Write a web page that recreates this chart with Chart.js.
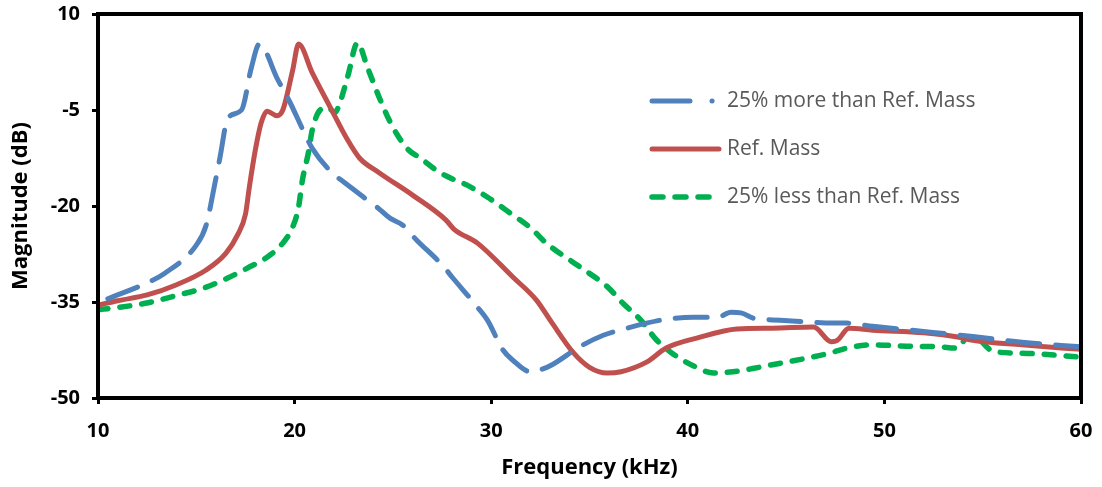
<!DOCTYPE html>
<html>
<head>
<meta charset="utf-8">
<title>Frequency response</title>
<script src="https://cdn.jsdelivr.net/npm/chart.js@4.4.1/dist/chart.umd.min.js"></script>
<style>
  body { margin: 0; background: #fff; }
  canvas { display: block; }
</style>
</head>
<body>
<canvas id="chart" width="1102" height="487"></canvas>
<script>
// 25% more than reference mass
const moreFreq = [10.5, 12.5, 13.4, 15.0, 15.5, 15.95, 16.2, 16.6, 17.3, 17.8, 18.2, 19.15, 19.7, 20.5, 20.9, 21.9, 22.5, 23.5, 24.2, 24.85, 25.5, 26.2, 27.5, 28.05, 29.3, 29.8, 30.6, 31.1, 32.0, 32.5, 33.1, 34.5, 35.7, 36.55, 37.9, 38.9, 40.3, 41.5, 42.2, 42.7, 43.4, 44.3, 45.5, 47.4, 48.1, 49.4, 52.0, 54.5, 57.0, 60];
const moreMag = [-34.5, -32.0, -30.5, -26.1, -23.0, -16.4, -12.5, -6.3, -5.0, 1.6, 5.3, -0.3, -3.4, -8.6, -11.0, -14.8, -16.25, -18.6, -20.2, -21.9, -23.0, -25.3, -29.2, -31.25, -35.8, -37.8, -42.5, -44.1, -45.9, -45.6, -44.8, -42.0, -40.2, -39.4, -38.3, -37.7, -37.4, -37.4, -36.6, -36.7, -37.6, -37.8, -38.0, -38.3, -38.3, -38.8, -39.6, -40.4, -41.3, -42.0];

// reference mass
const refFreq = [10, 11, 12.5, 14, 15.5, 16.5, 17.1, 17.5, 17.7, 18.0, 18.3, 18.6, 19.1, 19.4, 19.9, 20.2, 20.9, 21.8, 22.7, 23.3, 24.3, 26.0, 27.7, 28.1, 29.3, 31.1, 32.3, 33.1, 34.2, 35.0, 35.9, 36.6, 37.9, 38.9, 40.5, 42.5, 44.3, 46.4, 47.3, 47.6, 48.2, 49.4, 52.0, 53.8, 54.5, 57.0, 60];
const refMag = [-35.5, -34.8, -33.9, -32.3, -30.0, -27.4, -24.5, -21.3, -17.0, -11.3, -7.0, -5.2, -5.9, -5.0, 1.2, 5.3, 0.8, -4.5, -9.7, -12.5, -14.8, -18.3, -22.2, -23.6, -25.8, -31.1, -34.7, -38.3, -43.0, -45.2, -46.1, -45.9, -44.4, -42.2, -40.6, -39.2, -39.1, -38.9, -41.2, -41.0, -39.1, -39.4, -39.8, -40.5, -41.0, -41.7, -42.4];

// 25% less than reference mass
const lessFreq = [10.0, 10.9, 12.4, 14.1, 15.4, 16.6, 17.6, 18.6, 19.4, 19.9, 20.2, 20.4, 20.7, 20.9, 21.3, 21.7, 22.05, 22.3, 22.7, 23.2, 23.7, 24.3, 25.0, 25.8, 26.4, 27.2, 27.9, 28.75, 29.8, 31.1, 32.0, 32.8, 34.5, 35.9, 36.7, 37.6, 38.4, 39.2, 40.3, 41.3, 42.3, 43.3, 44.3, 46.1, 47.2, 48.1, 49.4, 51.1, 52.8, 53.7, 54.25, 54.7, 55.2, 55.5, 57.0, 60];
const lessMag = [-36.2, -35.9, -35.2, -33.9, -32.8, -31.25, -29.7, -28.0, -25.8, -23.3, -20.2, -15.9, -11.7, -8.1, -5.0, -4.6, -5.4, -3.9, 0.2, 5.5, 1.7, -3.0, -7.7, -11.25, -12.5, -14.4, -15.6, -16.7, -18.6, -21.4, -23.4, -25.8, -29.5, -32.6, -35.2, -37.8, -40.9, -43.0, -45.0, -46.1, -45.9, -45.4, -44.8, -43.75, -43.0, -42.2, -41.7, -41.9, -42.0, -42.2, -40.5, -40.6, -42.0, -42.7, -43.0, -43.6];

const seriesNames = ['25% more than Ref. Mass', 'Ref. Mass', '25% less than Ref. Mass'];
const xTicks = [10, 20, 30, 40, 50, 60];
const yTicks = [-50, -35, -20, -5, 10];

function toPoints(xs, ys) {
  return xs.map((x, i) => ({ x: x, y: ys[i] }));
}

const tickFont = { family: 'Open Sans', weight: 'bold', size: 20 };
const titleFont = { family: 'Open Sans', weight: 'bold', size: 22 };

// legend sits inside the plot, so draw it ourselves
const legendInside = {
  id: 'legendInside',
  afterDraw(chart) {
    const ctx = chart.ctx;
    const rows = [
      { y: 101, dash: [38, 22, 0.1, 10] },
      { y: 149, dash: [] },
      { y: 197, dash: [11, 12] }
    ];
    ctx.save();
    chart.data.datasets.forEach((ds, i) => {
      const r = rows[i];
      ctx.beginPath();
      ctx.strokeStyle = ds.borderColor;
      ctx.lineWidth = ds.borderWidth;
      ctx.lineCap = 'round';
      ctx.setLineDash(r.dash);
      ctx.moveTo(652, r.y);
      ctx.lineTo(i === 1 ? 719 : 717, r.y);
      ctx.stroke();
      ctx.setLineDash([]);
      ctx.fillStyle = '#595959';
      ctx.font = '21px "Open Sans"';
      ctx.textBaseline = 'middle';
      ctx.fillText(ds.label, 727, r.y);
    });
    ctx.restore();
  }
};

// closed black frame round the plot area
const frame = {
  id: 'frame',
  afterDatasetsDraw(chart) {
    const a = chart.chartArea;
    const ctx = chart.ctx;
    ctx.save();
    ctx.strokeStyle = '#000';
    ctx.lineWidth = 4;
    ctx.strokeRect(a.left, a.top, a.right - a.left, a.bottom - a.top);
    ctx.restore();
  }
};

new Chart(document.getElementById('chart'), {
  type: 'line',
  data: {
    datasets: [
      {
        label: seriesNames[0],
        data: toPoints(moreFreq, moreMag),
        borderColor: '#4F81BD',
        borderWidth: 5,
        borderDash: [32, 16],
        borderCapStyle: 'round',
        cubicInterpolationMode: 'monotone',
        pointRadius: 0
      },
      {
        label: seriesNames[1],
        data: toPoints(refFreq, refMag),
        borderColor: '#C0504D',
        borderWidth: 5,
        borderCapStyle: 'round',
        borderJoinStyle: 'round',
        cubicInterpolationMode: 'monotone',
        pointRadius: 0
      },
      {
        label: seriesNames[2],
        data: toPoints(lessFreq, lessMag),
        borderColor: '#00B050',
        borderWidth: 5.5,
        borderDash: [10, 12],
        borderCapStyle: 'round',
        cubicInterpolationMode: 'monotone',
        pointRadius: 0
      }
    ]
  },
  options: {
    responsive: false,
    animation: false,
    layout: { padding: { left: 0, right: 21, top: 14, bottom: 0 } },
    plugins: {
      legend: { display: false },
      tooltip: { enabled: false }
    },
    scales: {
      x: {
        type: 'linear',
        min: 10,
        max: 60,
        afterBuildTicks: s => { s.ticks = xTicks.map(v => ({ value: v })); },
        afterFit: s => {
          s.height = 89;
          s.paddingLeft = 0;
          s.paddingRight = 0;
        },
        grid: { drawOnChartArea: false, tickLength: 6, color: '#000', lineWidth: 3 },
        border: { color: '#000', width: 4 },
        ticks: { color: '#000', font: tickFont, padding: 15, maxRotation: 0 },
        title: { display: true, text: 'Frequency (kHz)', color: '#000', font: titleFont, padding: { bottom: 6 } }
      },
      y: {
        min: -50,
        max: 10,
        afterBuildTicks: s => { s.ticks = yTicks.map(v => ({ value: v })); },
        afterFit: s => {
          s.width = 98;
          // let the end tick labels hang past the plot
          s.paddingTop = 0;
          s.paddingBottom = 0;
        },
        grid: { drawOnChartArea: false, tickLength: 6, color: '#000', lineWidth: 3 },
        border: { color: '#000', width: 4 },
        ticks: { color: '#000', font: tickFont, padding: 12 },
        title: { display: true, text: 'Magnitude (dB)', color: '#000', font: titleFont, padding: { top: 8 } }
      }
    }
  },
  plugins: [legendInside, frame]
});
</script>
</body>
</html>
